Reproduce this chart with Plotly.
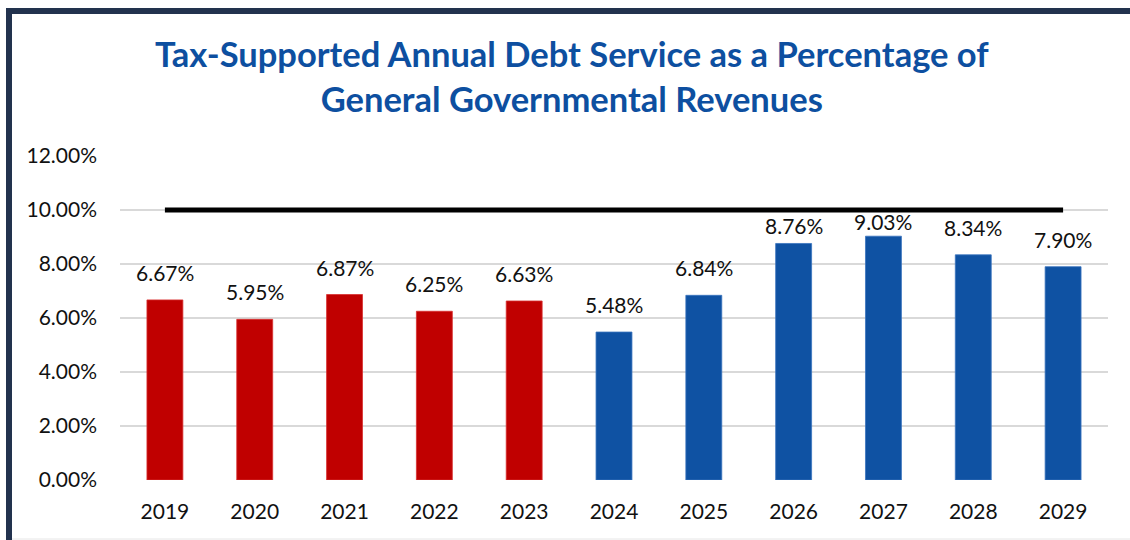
import plotly.graph_objects as go

years = ["2019", "2020", "2021", "2022", "2023", "2024", "2025", "2026", "2027", "2028", "2029"]
actual_years = ["2019", "2020", "2021", "2022", "2023"]
actual_values = [6.67, 5.95, 6.87, 6.25, 6.63]
projected_years = ["2024", "2025", "2026", "2027", "2028", "2029"]
projected_values = [5.48, 6.84, 8.76, 9.03, 8.34, 7.90]
limit_value = 10.0
y_ticks = [0, 2, 4, 6, 8, 10, 12]

FONT = "Lato"
RED = "#C00000"
BLUE = "#0F52A3"
TXT = "#111111"

# labels close to the limit line are tucked down so they stay clear of it
LABEL_SHIFT = 13
LABEL_SHIFT_NEAR_LINE = {"2026": 3, "2027": 0}

fig = go.Figure()


def pct(v):
    return f"{v:.2f}%"


fig.add_trace(go.Bar(
    x=actual_years, y=actual_values,
    marker=dict(color=RED, line=dict(color="#D83030", width=0.8)),
    width=0.4, showlegend=False,
))
fig.add_trace(go.Bar(
    x=projected_years, y=projected_values,
    marker=dict(color=BLUE, line=dict(color="#3A74BE", width=0.8)),
    width=0.4, showlegend=False,
))

# value labels above each bar (category index positions)
for xs, vs in ((actual_years, actual_values), (projected_years, projected_values)):
    for x, v in zip(xs, vs):
        fig.add_annotation(
            x=years.index(x), y=v, text=pct(v), showarrow=False,
            yanchor="bottom", yshift=LABEL_SHIFT_NEAR_LINE.get(x, LABEL_SHIFT),
            font=dict(family=FONT, size=21, color=TXT),
        )

# policy limit line
fig.add_trace(go.Scatter(
    x=[years[0], years[-1]], y=[limit_value, limit_value],
    mode="lines", line=dict(color="#000000", width=5),
    showlegend=False, hoverinfo="skip",
))

# frame around the chart (top and left edges)
plot_l, plot_r, plot_t, plot_b = 120, 1108, 156, 480
pw, ph = plot_r - plot_l, plot_b - plot_t


def px(x):
    return (x - plot_l) / pw


def py(y):
    return (plot_b - y) / ph


frame = "#22324E"
fig.add_shape(type="line", xref="paper", yref="paper",
              x0=px(6), x1=px(1130), y0=py(11), y1=py(11),
              line=dict(color=frame, width=6), layer="above")
fig.add_shape(type="line", xref="paper", yref="paper",
              x0=px(9), x1=px(9), y0=py(8), y1=py(545),
              line=dict(color=frame, width=6), layer="above")
fig.add_shape(type="line", xref="paper", yref="paper",
              x0=px(12), x1=px(1130), y0=py(539), y1=py(539),
              line=dict(color="#E6E6E6", width=1), layer="above")

fig.update_layout(
    width=1130, height=540,
    margin=dict(l=plot_l, r=1130 - plot_r, t=plot_t, b=540 - plot_b),
    paper_bgcolor="white", plot_bgcolor="white",
    barmode="overlay",
    title=dict(
        text="Tax-Supported Annual Debt Service as a Percentage of<br>General Governmental Revenues",
        x=0.506, xanchor="center", y=0.876, yanchor="middle",
        font=dict(family=FONT, size=34.5, color="#0D4FA0", weight="bold"),
    ),
    xaxis=dict(
        type="category", categoryorder="array", categoryarray=years,
        range=[-0.5, len(years) - 0.5],
        showgrid=False, showline=False, ticks="",
        ticklabelstandoff=17,
        tickfont=dict(family=FONT, size=21, color=TXT),
    ),
    yaxis=dict(
        range=[0, 12], tickvals=y_ticks,
        ticktext=[f"{v:.2f}%" for v in y_ticks],
        showgrid=True, gridcolor="#D9D9D9", gridwidth=1.5,
        zeroline=False, showline=False, ticks="",
        ticklabelstandoff=22,
        tickfont=dict(family=FONT, size=21, color=TXT),
    ),
    font=dict(family=FONT),
)

fig.write_html("out.html")
